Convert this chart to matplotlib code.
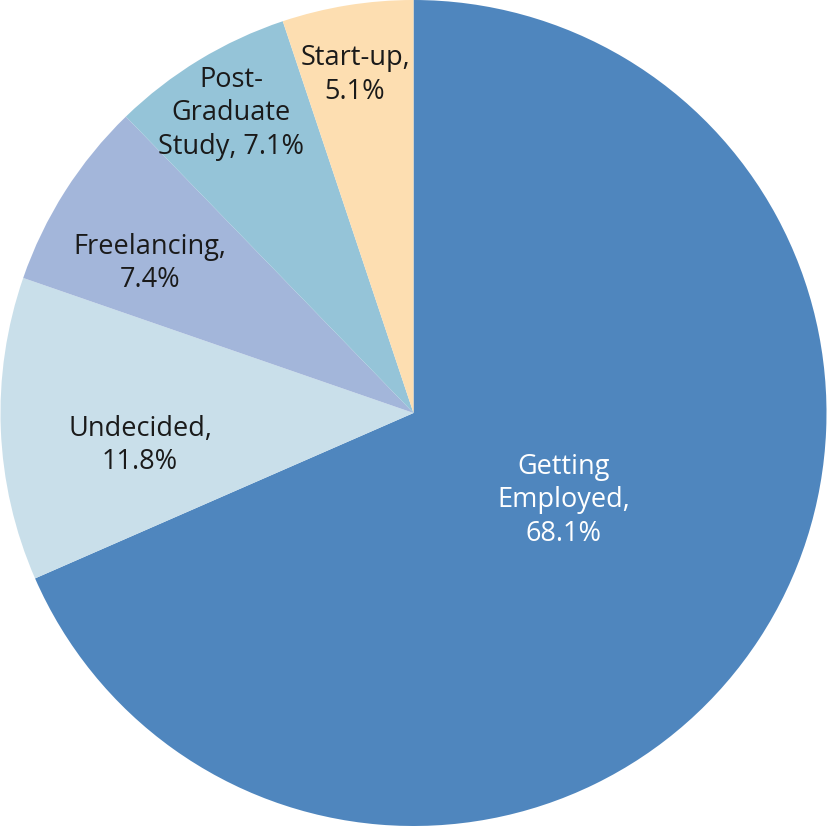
import matplotlib.pyplot as plt
import numpy as np

labels = ['Getting\nEmployed,\n68.1%', 'Undecided,\n11.8%', 'Freelancing,\n7.4%',
          'Post-\nGraduate\nStudy, 7.1%', 'Start-up,\n5.1%']
values = [68.1, 11.8, 7.4, 7.1, 5.1]
colors = ['#4F86BE', '#C9DFEA', '#A3B6DA', '#95C4D8', '#FDDEB1']
# label placement: radius fraction and angle nudge (deg) from the wedge middle
label_r = [0.42, 0.667, 0.734, 0.849, 0.83]
label_nudge = [3.0, 4.5, 2.9, 0.0, 0.6]

plt.rcParams['font.family'] = ['Open Sans', 'DejaVu Sans']

fig = plt.figure(figsize=(8.27, 8.26), dpi=100)
ax = fig.add_axes([0, 0, 1, 1])
wedges, _ = ax.pie(values, colors=colors, startangle=90, counterclock=False,
                   radius=1.0, wedgeprops=dict(linewidth=0))

txt_cols = ['white', '#1a1a1a', '#1a1a1a', '#1a1a1a', '#1a1a1a']
for w, lab, r, nd, tc in zip(wedges, labels, label_r, label_nudge, txt_cols):
    ang = np.deg2rad((w.theta1 + w.theta2) / 2 + nd)
    ax.text(r * np.cos(ang), r * np.sin(ang), lab, ha='center', va='center',
            fontsize=19.5, color=tc, linespacing=1.27)

ax.set_xlim(-1.0, 1.0)
ax.set_ylim(-1.0, 1.0)
ax.set_aspect('equal')
ax.axis('off')
fig.savefig('out.png', dpi=100)
